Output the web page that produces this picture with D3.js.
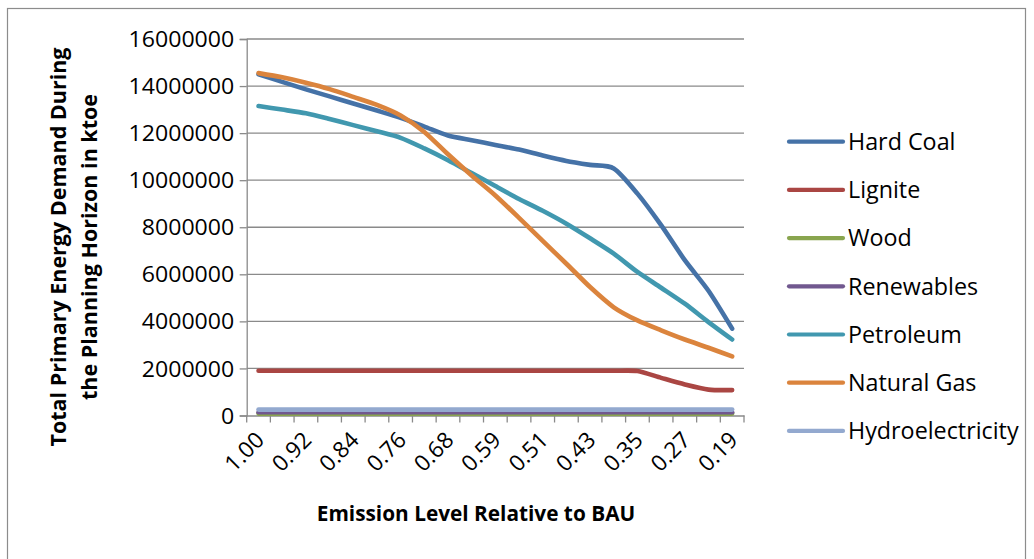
<!DOCTYPE html>
<html>
<head>
<meta charset="utf-8">
<script src="https://cdn.jsdelivr.net/npm/d3@7"></script>
<style>
  html, body { margin: 0; padding: 0; background: #fff; }
  svg { display: block; font-family: "Open Sans", "Noto Sans", sans-serif; }
</style>
</head>
<body>
<svg id="chart" width="1034" height="559"></svg>
<script>
// Emission level relative to business-as-usual (x categories)
const categories = ["1.00","0.96","0.92","0.88","0.84","0.80","0.76","0.72","0.68","0.64","0.59",
                    "0.55","0.51","0.47","0.43","0.39","0.35","0.31","0.27","0.23","0.19"];
// Every other category carries a label
const labelledCategories = ["1.00","0.92","0.84","0.76","0.68","0.59","0.51","0.43","0.35","0.27","0.19"];
const yTicks = [0, 2000000, 4000000, 6000000, 8000000, 10000000, 12000000, 14000000, 16000000];

// Total primary energy demand per source (ktoe)
const hardCoal = [14500000,14180000,13860000,13560000,13260000,12960000,12650000,12280000,11900000,11700000,11500000,
                  11300000,11050000,10820000,10650000,10500000,9430000,8090000,6600000,5300000,3690000];
const lignite = [1900000,1900000,1900000,1900000,1900000,1900000,1900000,1900000,1900000,1900000,1900000,
                 1900000,1900000,1900000,1900000,1900000,1890000,1600000,1320000,1100000,1080000];
const wood = [80000,80000,80000,80000,80000,80000,80000,80000,80000,80000,80000,
              80000,80000,80000,80000,80000,80000,80000,80000,80000,80000];
const renewables = [140000,140000,140000,140000,140000,140000,140000,140000,140000,140000,140000,
                    140000,140000,140000,140000,140000,140000,140000,140000,140000,140000];
const petroleum = [13150000,13000000,12840000,12600000,12340000,12080000,11800000,11350000,10850000,10300000,9750000,
                   9200000,8700000,8150000,7530000,6880000,6100000,5430000,4750000,3970000,3230000];
const naturalGas = [14550000,14370000,14140000,13870000,13540000,13200000,12750000,12050000,11100000,10200000,9350000,
                    8400000,7420000,6450000,5460000,4600000,4040000,3620000,3230000,2880000,2510000];
const hydroelectricity = [250000,250000,250000,250000,250000,250000,250000,250000,250000,250000,250000,
                          250000,250000,250000,250000,250000,250000,250000,250000,250000,250000];

const seriesNames = ["Hard Coal","Lignite","Wood","Renewables","Petroleum","Natural Gas","Hydroelectricity"];
const seriesValues = [hardCoal, lignite, wood, renewables, petroleum, naturalGas, hydroelectricity];
const seriesColors = ["#4572A7","#AA4643","#89A54E","#71588F","#4198AF","#DB843D","#93A9CF"];

const svg = d3.select("#chart");
const plot = { left: 246.7, right: 744, top: 39, bottom: 415.5 };
const gridColor = "#8a8a8a";

// outer frame
svg.append("rect")
  .attr("x", 7.5).attr("y", 8.5).attr("width", 1018).attr("height", 560)
  .attr("fill", "none").attr("stroke", "#8c8c8c").attr("stroke-width", 1.2);

const x = d3.scaleBand().domain(categories).range([plot.left, plot.right]).padding(0);
const y = d3.scaleLinear().domain([0, 16000000]).range([plot.bottom, plot.top]);
const cx = c => x(c) + x.bandwidth() / 2;

// horizontal gridlines
svg.append("g")
  .selectAll("line").data(yTicks.filter(v => v > 0)).join("line")
  .attr("x1", plot.left).attr("x2", plot.right)
  .attr("y1", d => y(d)).attr("y2", d => y(d))
  .attr("stroke", gridColor).attr("stroke-width", 1.3);

// y axis (labels slightly widened)
const yLabelScale = 1.1;
const yAxis = svg.append("g")
  .attr("transform", `translate(${plot.left},0)`)
  .call(d3.axisLeft(y).tickValues(yTicks).tickSize(7).tickPadding(6).tickFormat(d3.format("d")));
yAxis.select(".domain").attr("stroke", gridColor).attr("stroke-width", 1.3);
yAxis.selectAll(".tick line").attr("stroke", gridColor).attr("stroke-width", 1.3);
yAxis.selectAll(".tick text")
  .attr("font-family", "'Open Sans', sans-serif")
  .attr("font-size", 21).attr("fill", "#000").attr("dy", "0.36em")
  .attr("x", -12.5 / yLabelScale)
  .attr("transform", `scale(${yLabelScale},1)`);

// x axis: baseline, boundary ticks and rotated labels
const xAxis = svg.append("g")
  .attr("transform", `translate(0,${plot.bottom})`)
  .call(d3.axisBottom(x).tickValues(labelledCategories).tickSize(0).tickPadding(0));
xAxis.select(".domain").attr("stroke", gridColor).attr("stroke-width", 1.3);
xAxis.selectAll(".tick text")
  .attr("font-family", "'Open Sans', sans-serif")
  .attr("font-size", 22.5).attr("fill", "#000")
  .attr("text-anchor", "end")
  .attr("y", 0).attr("dy", 0)
  .attr("transform", "translate(7,26) rotate(-45)");

const boundaries = categories.map(c => x(c)).concat([plot.right]);
svg.append("g")
  .selectAll("line").data(boundaries).join("line")
  .attr("x1", d => d).attr("x2", d => d)
  .attr("y1", plot.bottom).attr("y2", plot.bottom + 7)
  .attr("stroke", gridColor).attr("stroke-width", 1.3);

// series lines
const line = d3.line()
  .x((d, i) => cx(categories[i]))
  .y(d => y(d))
  .curve(d3.curveCardinal.tension(0.25));

svg.append("g")
  .selectAll("path").data(seriesValues).join("path")
  .attr("d", d => line(d))
  .attr("fill", "none")
  .attr("stroke", (d, i) => seriesColors[i])
  .attr("stroke-width", 4.6)
  .attr("stroke-linecap", "round")
  .attr("stroke-linejoin", "round");

// axis titles
svg.append("text")
  .attr("x", 476).attr("y", 521)
  .attr("text-anchor", "middle")
  .attr("font-family", "'Open Sans', sans-serif")
  .attr("font-weight", "bold").attr("font-size", 20.8)
  .text("Emission Level Relative to BAU");

const yTitle = svg.append("text")
  .attr("transform", "translate(66,247) rotate(-90)")
  .attr("text-anchor", "middle")
  .attr("font-family", "'Open Sans', sans-serif")
  .attr("font-weight", "bold").attr("font-size", 21.5);
yTitle.append("tspan").attr("x", 0).attr("dy", 0).text("Total Primary Energy Demand During");
yTitle.append("tspan").attr("x", 0).attr("dy", 31).text("the Planning Horizon in ktoe");

// legend
const legend = svg.append("g");
const rowY = i => 141.7 + 48.2 * i;
legend.selectAll("line").data(seriesNames).join("line")
  .attr("x1", 789).attr("x2", 843)
  .attr("y1", (d, i) => rowY(i)).attr("y2", (d, i) => rowY(i))
  .attr("stroke", (d, i) => seriesColors[i])
  .attr("stroke-width", 4.2).attr("stroke-linecap", "round");
legend.selectAll("text").data(seriesNames).join("text")
  .attr("x", 848).attr("y", (d, i) => rowY(i))
  .attr("dy", "0.36em")
  .attr("font-family", "'Open Sans', sans-serif")
  .attr("font-size", 23.3).attr("fill", "#000")
  .text(d => d);
</script>
</body>
</html>
